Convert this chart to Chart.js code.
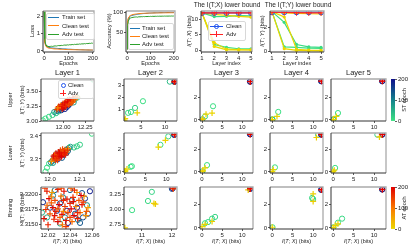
<!DOCTYPE html>
<html><head><meta charset="utf-8">
<script src="https://cdn.jsdelivr.net/npm/chart.js@4"></script>
<style>
body{margin:0;background:#fff;}
#fig{position:relative;width:411px;height:247px;overflow:hidden;font-family:"Liberation Sans",Arial,sans-serif;color:#222;}
#fig canvas{position:absolute;}
.t{position:absolute;white-space:nowrap;line-height:1;transform:translate(-50%,-50%);}
.r{transform:translate(-50%,-50%) rotate(-90deg);}
.d{position:absolute;}
</style></head><body><div id="fig"></div>
<script>
const FONT = '"Liberation Sans", Arial, sans-serif';
Chart.defaults.font.family = FONT;

// ---- training curves (top left) ----
const epochs    = [0,1,2,3,5,8,10,15,20,25,30,35,40,45,50,55,60,65,70,75,80,85,90,95,100,105,110,115,120,125,130,135,140,145,150,155,160,165,170,175,180,185,190,195,200];
const trainLoss = [2.30,1.60,0.90,0.55,0.38,0.30,0.26,0.22,0.20,0.19,0.18,0.17,0.16,0.155,0.15,0.145,0.14,0.135,0.13,0.125,0.12,0.115,0.11,0.105,0.10,0.098,0.095,0.09,0.088,0.085,0.08,0.078,0.075,0.072,0.07,0.068,0.065,0.062,0.06,0.058,0.055,0.052,0.05,0.048,0.045];
const cleanLoss = [2.30,1.50,0.80,0.50,0.34,0.26,0.22,0.18,0.16,0.15,0.14,0.13,0.12,0.115,0.11,0.105,0.10,0.10,0.095,0.09,0.09,0.085,0.085,0.08,0.08,0.078,0.075,0.075,0.072,0.07,0.07,0.068,0.068,0.065,0.065,0.063,0.062,0.06,0.06,0.058,0.058,0.056,0.055,0.055,0.054];
const advLoss   = [2.30,1.80,1.10,0.70,0.45,0.33,0.28,0.26,0.25,0.26,0.27,0.26,0.28,0.29,0.28,0.30,0.31,0.30,0.32,0.31,0.33,0.34,0.33,0.35,0.34,0.36,0.35,0.37,0.36,0.38,0.37,0.39,0.38,0.40,0.39,0.41,0.40,0.42,0.41,0.43,0.42,0.44,0.43,0.45,0.44];
const trainAcc  = [10,45,65,75,83,87,89,91,92,93,93.5,94,94.5,95,95.5,96,96.2,96.5,96.8,97,97.2,97.5,97.7,97.9,98,98.2,98.3,98.5,98.6,98.7,98.8,98.9,99,99,99.1,99.2,99.2,99.3,99.3,99.4,99.4,99.5,99.5,99.5,99.6];
const cleanAcc  = [10,50,70,80,86,89,91,92.5,93.5,94.5,95,95.5,96,96.3,96.6,96.8,97,97.2,97.3,97.5,97.6,97.7,97.8,97.9,98,98,98.1,98.2,98.2,98.3,98.3,98.4,98.4,98.5,98.5,98.5,98.6,98.6,98.6,98.7,98.7,98.7,98.8,98.8,98.8];
const advAcc    = [10,30,55,68,78,83,85,86,87,87.5,88,88.3,88.5,88,89,88.7,89.2,89,89.5,89.2,89.6,89.4,89.8,89.5,90,89.7,90.1,89.8,90.2,90,90.3,90.1,90.4,90.2,90.5,90.3,90.6,90.4,90.6,90.5,90.7,90.5,90.8,90.6,90.8];

// ---- lower bounds per layer (top right) ----
const layers   = [1,2,3,4,5];
const itxClean = [12,12,12,12,12];
const itxAdv   = [12,12,12,12,12];
const itxST    = [[12,10.8,10.9,11.1,11.0],[12,1.8,0.9,0.45,0.4]];
const itxAT    = [[12,11.5,11.2,10.9,10.6],[12,2.4,0.3,0.15,0.1],[12,1.2,0.1,0.05,0.05]];
const ityClean = [3.25,3.25,3.25,3.25,3.25];
const ityAdv   = [3.25,3.23,3.21,3.2,3.2];
const ityST    = [[3.3,2.4,0.55,0.35,0.3],[3.3,0.35,0.3,0.25,0.22]];
const ityAT    = [[3.25,3.2,3.15,3.12,3.1],[3.3,2.85,0.15,0.08,0.05],[3.3,0.2,0.05,0.03,0.02]];
const lineEpST = [6,0];
const lineEpAT = [4,2,0];

// ---- information plane points: [I(T;X), I(T;Y), epoch] ----
const up1C = [[11.77,3.01,0],[11.80,3.04,6],[11.84,3.07,12],[11.88,3.10,20],[11.92,3.13,30],[11.95,3.16,45],[12.13,3.36,40],[12.16,3.39,25],[12.34,3.69,3],
  [11.90,3.15,80],[11.93,3.17,100],[11.95,3.19,120],[11.97,3.21,140],[11.99,3.22,160],[12.01,3.24,180],[12.03,3.26,200],[12.05,3.28,190],[12.07,3.30,170],[12.09,3.32,150],
  [11.96,3.23,130],[12.00,3.27,110],[12.04,3.23,175],[12.06,3.26,195],[12.02,3.20,185],[11.98,3.18,165],[12.08,3.29,145],[12.10,3.34,90],[12.12,3.31,70]];
const up1A = [[11.93,3.19,150],[11.96,3.21,160],[11.98,3.23,170],[12.00,3.25,180],[12.02,3.27,190],[12.04,3.29,200],[12.06,3.31,195],[12.08,3.33,185],[12.10,3.35,175],[12.12,3.37,165],
  [12.14,3.39,155],[12.00,3.29,140],[12.03,3.32,130],[12.06,3.27,120],[12.09,3.30,110],[11.97,3.26,100],[12.05,3.35,145],[12.11,3.32,135],[12.01,3.22,200],[12.07,3.36,190],
  [11.95,3.24,175],[11.99,3.27,185],[12.02,3.30,195],[12.05,3.32,200],[12.08,3.35,180],[12.11,3.38,160],[11.99,3.20,190],[12.03,3.24,170],[12.07,3.28,150],[12.10,3.31,130],
  [12.13,3.35,115],[11.94,3.22,90],[12.16,3.40,85]];
const up2C = [[2.3,0.73,5],[2.9,0.8,10],[3.75,1.14,20],[5.4,1.7,3],[11.0,3.33,40],[11.95,3.31,100],[12.0,3.33,150],[12.05,3.35,200]];
const up2A = [[1.55,0.12,0],[1.7,0.24,3],[4.2,0.73,8],[11.9,3.3,160],[12.0,3.35,120],[12.05,3.33,200]];
const up3C = [[0.1,0.05,40],[0.75,0.3,10],[2.75,1.2,3],[11.95,3.36,150],[12.0,3.38,200]];
const up3A = [[0.05,0.02,30],[0.2,0.1,6],[1.0,0.5,5],[2.5,0.6,2],[12.05,3.36,170],[12.0,3.38,200]];
const up4C = [[0.05,0.02,50],[0.1,0.05,20],[1.5,0.7,3],[11.95,3.4,150],[12.0,3.42,200]];
const up4A = [[0,0,8],[0.1,0.03,3],[1.2,0.3,2],[12.05,3.4,170],[12.0,3.42,200]];
const up5C = [[0.05,0.02,50],[0.1,0.05,20],[1.2,0.6,3],[11.95,3.4,150],[12.0,3.42,200]];
const up5A = [[0,0,8],[0.1,0.03,3],[0.8,0.3,2],[12.05,3.4,170],[12.0,3.42,200]];

const lo1C = [[11.985,3.245,0],[11.99,3.262,5],[11.997,3.28,10],[12.14,3.41,3],[12.09,3.355,15],[12.10,3.362,20],[12.08,3.35,30],
  [12.003,3.285,90],[12.008,3.292,110],[12.013,3.298,130],[12.018,3.303,150],[12.023,3.308,170],[12.028,3.313,190],[12.033,3.318,200],[12.038,3.323,180],[12.043,3.328,160],
  [12.048,3.333,140],[12.053,3.338,120],[12.058,3.343,100],[12.063,3.348,80],[12.068,3.353,60],[12.015,3.31,175],[12.025,3.298,185],[12.035,3.33,165],[12.045,3.318,195],
  [12.055,3.326,155],[12.01,3.283,70],[12.06,3.335,125],[12.02,3.32,145],[12.04,3.305,135]];
const lo1A = [[12.01,3.30,120],[12.015,3.305,140],[12.02,3.31,160],[12.025,3.315,180],[12.03,3.32,200],[12.035,3.325,190],[12.04,3.33,170],[12.045,3.335,150],[12.05,3.34,130],
  [12.055,3.33,110],[12.02,3.325,185],[12.03,3.305,175],[12.04,3.315,195],[12.05,3.325,165],[12.025,3.295,145],[12.045,3.32,155],[12.035,3.338,135],[12.015,3.318,125],[12.06,3.345,70],[12.005,3.29,80],
  [12.012,3.312,190],[12.022,3.302,170],[12.028,3.33,180],[12.038,3.31,200],[12.048,3.328,185],[12.058,3.338,160],[12.018,3.296,150],[12.042,3.342,140],[12.032,3.326,195],[12.052,3.318,175]];
const lo2C = [[1.4,0.45,2],[1.7,0.5,3],[8.6,2.4,5],[10.5,3.15,10],[11.9,3.28,150],[12.0,3.3,200]];
const lo2A = [[0.05,0.02,0],[0.15,0.08,2],[0.0,0.1,1],[0.5,0.25,1],[8.1,2.2,3],[9.8,2.8,8],[12.05,3.28,130],[12.0,3.3,190]];
const lo3C = [[0.1,0.05,20],[1.25,0.6,3],[11.95,3.33,150],[12.0,3.35,200]];
const lo3A = [[0.1,0.05,0],[0.2,0.1,5],[0.75,0.35,2],[12.05,3.33,170],[12.0,3.35,200]];
const lo4C = [[0.7,0.4,3],[11.2,3.3,20],[11.95,3.3,150],[12.0,3.32,200]];
const lo4A = [[0.05,0.02,0],[0.3,0.2,2],[10.8,3.05,10],[12.05,3.3,170],[12.0,3.32,200]];
const lo5C = [[0.5,0.35,3],[10.8,3.3,20],[11.95,3.3,150],[12.0,3.32,200]];
const lo5A = [[0.05,0.02,0],[0.3,0.15,2],[11.3,3.1,10],[12.05,3.3,170],[12.0,3.32,200]];

const bin1C = [[12.0154,3.3187,180],[12.0191,3.3162,60],[12.0309,3.3152,70],[12.0381,3.3153,200],[12.0581,3.3205,190],[12.0536,3.3193,170],[12.0554,3.3182,80],[12.0563,3.3168,160],
  [12.0518,3.3162,150],[12.0491,3.3153,140],[12.0445,3.3168,130],[12.0418,3.3190,120],[12.0336,3.3195,110],[12.0245,3.3198,100],[12.0281,3.3173,175],[12.0218,3.3178,165],
  [12.0372,3.3173,185],[12.0463,3.3178,195],[12.0309,3.3185,155],[12.0509,3.3202,145],[12.0400,3.3207,135],[12.0263,3.3207,125],[12.0145,3.3170,50],[12.0354,3.3162,90],[12.0472,3.3158,115]];
const bin1A = [[12.0172,3.3210,150],[12.0236,3.3203,60],[12.0290,3.3208,170],[12.0345,3.3205,190],[12.0409,3.3210,120],[12.0463,3.3203,80],[12.0209,3.3193,200],[12.0263,3.3190,140],
  [12.0318,3.3197,100],[12.0372,3.3192,180],[12.0427,3.3195,160],[12.0481,3.3190,130],[12.0527,3.3197,70],[12.0191,3.3182,110],[12.0245,3.3178,190],[12.0300,3.3183,200],
  [12.0354,3.3180,150],[12.0400,3.3185,170],[12.0454,3.3180,90],[12.0509,3.3183,185],[12.0563,3.3178,60],[12.0218,3.3168,130],[12.0272,3.3172,175],[12.0327,3.3167,195],
  [12.0381,3.3170,140],[12.0436,3.3165,200],[12.0491,3.3170,100],[12.0545,3.3165,75],[12.0254,3.3159,165],[12.0309,3.3162,120],[12.0363,3.3157,180],[12.0418,3.3155,110],
  [12.0163,3.3160,190],[12.0200,3.3150,170],[12.0363,3.3147,150],
  [12.0190,3.3205,180],[12.0320,3.3210,140],[12.0440,3.3207,160],[12.0500,3.3198,200],[12.0230,3.3186,120],[12.0340,3.3190,170],[12.0430,3.3188,190],[12.0290,3.3176,130],
  [12.0410,3.3176,200],[12.0470,3.3170,165],[12.0340,3.3172,90],[12.0260,3.3165,185],[12.0400,3.3162,145],[12.0470,3.3160,175],[12.0290,3.3155,195],[12.0330,3.3150,100],
  [12.0520,3.3187,150],[12.0550,3.3172,125],[12.0180,3.3175,160],[12.0230,3.3196,85]];
const bin2C = [[10.67,2.99,5],[11.2,3.14,10],[11.33,3.29,15],[12.0,3.34,150],[12.03,3.35,200]];
const bin2A = [[10.43,2.7,2],[11.4,3.1,8],[11.45,3.09,12],[12.05,3.34,120],[12.03,3.35,180]];
const bin3C = [[0.75,0.4,2],[1.5,0.5,5],[2.5,0.8,10],[3.25,0.95,15],[11.95,3.38,150],[12.0,3.4,200]];
const bin3A = [[0,0.1,0],[0.75,0.3,3],[2.5,0.55,10],[11.5,3.3,20],[12.05,3.38,170],[12.0,3.4,200]];
const bin4C = [[0.1,0.05,2],[9.75,2.6,10],[10,2.5,15],[11.95,3.3,150],[12.0,3.32,200]];
const bin4A = [[0.05,0.05,0],[10,2.95,8],[10,2.3,12],[12.05,3.3,170],[12.0,3.32,200]];
const bin5C = [[0.1,0.05,1],[1.2,0.45,5],[2.2,0.8,10],[11.95,3.33,150],[12.0,3.35,200]];
const bin5A = [[0.05,0.02,0],[0.5,0.2,3],[1.2,0.35,6],[12.05,3.33,170],[12.0,3.35,200]];

const cbarTicks = [0,100,200];

// ---- colours ----
const stStops = [[60,225,130],[20,130,140],[15,15,140]];
const atStops = [[235,215,0],[250,120,0],[225,0,0]];
function cmap(stops, t){
  const n = stops.length-1, k = Math.min(n-1, Math.floor(t*n)), f = t*n-k;
  const a = stops[k], b = stops[k+1];
  return 'rgb('+a.map((v,i)=>Math.round(v+(b[i]-v)*f)).join(',')+')';
}
const stColor = e => cmap(stStops, e/200), atColor = e => cmap(atStops, e/200);
const BLUE = '#2255ee', RED = '#ff2222';

const fig = document.getElementById('fig');
const PL = 34, PB = 14, PT = 6, PR = 12;

const frame = {
  id: 'frame',
  afterDatasetsDraw(c){
    const a = c.chartArea, x = c.ctx;
    x.save();
    x.lineWidth = 1.3; x.strokeStyle = '#aaa';
    x.beginPath(); x.moveTo(a.left, a.top); x.lineTo(a.right, a.top); x.lineTo(a.right, a.bottom); x.stroke();
    x.lineWidth = 1; x.strokeStyle = '#333';
    x.beginPath(); x.moveTo(a.left, a.top); x.lineTo(a.left, a.bottom); x.lineTo(a.right, a.bottom); x.stroke();
    x.restore();
  }
};

function axis([min, max, ticks, dec], size, dir, pos){
  return { type: 'linear', min, max, position: pos,
    afterBuildTicks: s => { s.ticks = ticks.map(v => ({value: v})); },
    afterFit: s => { if(dir === 'x') s.height = size; else s.width = size; },
    ticks: { autoSkip: false, maxRotation: 0, padding: 1, color: '#222', font: {size: 6}, callback: v => v.toFixed(dec) },
    grid: { drawOnChartArea: false, tickLength: 2, color: '#333', lineWidth: 0.8 },
    border: { display: false } };
}

// chart.js paints dataset 0 last, so the first dataset in the list ends up on top
function panel(b, xs, ys, datasets){
  const cv = document.createElement('canvas');
  cv.width = b[2]+PL+PR; cv.height = b[3]+PT+PB;
  cv.style.left = (b[0]-PL)+'px'; cv.style.top = (b[1]-PT)+'px';
  fig.appendChild(cv);
  return new Chart(cv, { type: 'scatter', data: { datasets },
    options: { responsive: false, animation: false, devicePixelRatio: 1,
      layout: { padding: { top: PT, right: PR, left: 0, bottom: 0 } },
      plugins: { legend: { display: false }, tooltip: { enabled: false } },
      scales: { x: axis(xs, PB, 'x'), y: axis(ys, PL, 'y') } },
    plugins: [frame] });
}

function colorbar(b, stops){
  const cv = document.createElement('canvas');
  cv.width = b[2]+18; cv.height = b[3]+12;
  cv.style.left = b[0]+'px'; cv.style.top = (b[1]-6)+'px';
  fig.appendChild(cv);
  const y = axis([0, 200, cbarTicks, 0], 18, 'y', 'right');
  new Chart(cv, { type: 'bar',
    data: { labels: [''], datasets: [{ data: [[cbarTicks[0], cbarTicks[2]]], barPercentage: 1, categoryPercentage: 1,
      backgroundColor: c => { const a = c.chart.chartArea; if(!a) return null;
        const g = c.chart.ctx.createLinearGradient(0, a.bottom, 0, a.top);
        stops.forEach((s,i) => g.addColorStop(i/(stops.length-1), 'rgb('+s.join(',')+')')); return g; } }] },
    options: { responsive: false, animation: false, devicePixelRatio: 1,
      layout: { padding: { top: 6, bottom: 6 } },
      plugins: { legend: { display: false }, tooltip: { enabled: false } },
      scales: { x: { display: false }, y } } });
}

const xy = (xs, ys) => xs.map((x,i) => ({x, y: ys[i]}));
const curve = (ys, color) => ({ data: xy(epochs, ys), showLine: true, borderColor: color, borderWidth: 1, pointRadius: 0 });
const pts = arr => arr.map(p => ({x: p[0], y: p[1]}));
const cleanSet = arr => ({ data: pts(arr), pointStyle: 'circle', pointRadius: 2.6, pointBorderWidth: 1,
  pointBackgroundColor: 'rgba(0,0,0,0)', pointBorderColor: arr.map(p => stColor(p[2])) });
const advSet = arr => ({ data: pts(arr), pointStyle: 'cross', pointRadius: 3, pointBorderWidth: 1.2,
  pointBorderColor: arr.map(p => atColor(p[2])) });
function layerLines(st, at, clean, adv){
  const ds = [];
  ds.push({ data: xy(layers, adv), showLine: true, borderColor: RED, borderWidth: 1.2, pointStyle: 'cross', pointRadius: 3,
    pointBorderColor: RED, pointBorderWidth: 1 });
  ds.push({ data: xy(layers, clean), showLine: true, borderColor: BLUE, borderWidth: 1.2, pointStyle: 'circle', pointRadius: 2.6,
    pointBorderColor: BLUE, pointBackgroundColor: 'rgba(0,0,0,0)', pointBorderWidth: 1 });
  at.forEach((v,i) => ds.push({ data: xy(layers, v), showLine: true, borderColor: atColor(lineEpAT[i]), borderWidth: 1.2,
    pointRadius: 1.6, pointBackgroundColor: atColor(lineEpAT[i]), pointBorderWidth: 0 }));
  st.forEach((v,i) => ds.push({ data: xy(layers, v), showLine: true, borderColor: stColor(lineEpST[i]), borderWidth: 1.2,
    pointRadius: 1.6, pointBackgroundColor: stColor(lineEpST[i]), pointBorderWidth: 0 }));
  return ds;
}

// top row
panel([43,11,51,41], [-5,205,[0,100,200],0], [-0.06,2.29,[0,1,2],0],
  [curve(advLoss,'#2ca02c'), curve(cleanLoss,'#ff7f0e'), curve(trainLoss,'#1f77b4')]);
panel([126,11,49,41], [-5,205,[0,100,200],0], [3,103,[50,100],0],
  [curve(advAcc,'#2ca02c'), curve(cleanAcc,'#ff7f0e'), curve(trainAcc,'#1f77b4')]);
panel([201,11,51,41], [0.92,5.08,layers,0], [-0.6,12.6,[0,5,10],0], layerLines(itxST, itxAT, itxClean, itxAdv));
panel([270,11,54,41], [0.84,5.24,layers,0], [-0.08,3.35,[0,2],0], layerLines(ityST, ityAT, ityClean, ityAdv));

// information planes
const cols = [[41,53],[124,53],[200,53],[270,53],[331,55]];
const rows = [[79,42],[133,40],[187,42]];
const planes = [
  [[up1C,up1A,[11.75,12.35,[12,12.25],2],[3.0,3.7,[3,3.25,3.5],2]],
   [up2C,up2A,[1.45,12.5,[5,10],0],[0.05,3.55,[1,2,3],0]],
   [up3C,up3A,[-0.5,12.7,[0,5,10],0],[-0.1,3.6,[0,2],0]],
   [up4C,up4A,[-0.5,12.4,[0,5,10],0],[-0.1,3.6,[0,2],0]],
   [up5C,up5A,[-0.5,12.9,[0,5,10],0],[-0.1,3.6,[0,2],0]]],
  [[lo1C,lo1A,[11.97,12.147,[12.0,12.1],1],[3.239,3.413,[3.3,3.4],1]],
   [lo2C,lo2A,[-0.2,12.6,[0,5,10],0],[-0.1,3.45,[0,2],0]],
   [lo3C,lo3A,[-0.5,12.7,[0,5,10],0],[-0.1,3.45,[0,2],0]],
   [lo4C,lo4A,[-0.5,12.4,[0,5,10],0],[-0.1,3.45,[0,2],0]],
   [lo5C,lo5A,[-0.5,12.9,[0,5,10],0],[-0.1,3.45,[0,2],0]]],
  [[bin1C,bin1A,[12.0136,12.0618,[12.02,12.04,12.06],2],[3.3143,3.3212,[3.315,3.3175,3.32],4]],
   [bin2C,bin2A,[10.4,12.17,[11,12],0],[2.68,3.37,[2.75,3,3.25],2]],
   [bin3C,bin3A,[-0.5,12.7,[0,5,10],0],[-0.1,3.55,[0,2],0]],
   [bin4C,bin4A,[-0.5,12.4,[0,5,10],0],[-0.1,3.55,[0,2],0]],
   [bin5C,bin5A,[-0.5,12.9,[0,5,10],0],[-0.1,3.55,[0,2],0]]]
];
planes.forEach((row, r) => row.forEach((p, c) =>
  panel([cols[c][0], rows[r][0], cols[c][1], rows[r][1]], p[2], p[3], [advSet(p[1]), cleanSet(p[0])])));

colorbar([391,79,4,42], stStops);
colorbar([391,187,4,42], atStops);

// text
function lab(html, x, y, size, rot){
  const d = document.createElement('div');
  d.className = 't' + (rot ? ' r' : '');
  d.style.left = x+'px'; d.style.top = y+'px'; d.style.fontSize = size+'px';
  d.innerHTML = html; fig.appendChild(d);
}
const IX = '<i>I</i>(<i>T</i>; <i>X</i>) (bits)', IY = '<i>I</i>(<i>T</i>; <i>Y</i>) (bits)';
lab('Loss', 32, 31, 6, 1); lab('Accuracy (%)', 109, 31, 6, 1);
lab(IX, 189, 31, 6, 1); lab(IY, 262, 31, 6, 1);
lab('Epochs', 68.5, 64, 5.5); lab('Epochs', 150.5, 64, 5.5);
lab('Layer index', 226.5, 64, 5.5); lab('Layer index', 297, 64, 5.5);
lab('The I(T;X) lower bound', 227, 5, 6.6); lab('The I(T;Y) lower bound', 298, 5, 6.6);
cols.forEach((c, i) => { lab('Layer ' + (i+1), c[0] + c[1]/2, 73, 7.5); lab(IX, c[0] + c[1]/2, 242, 5.5); });
['Upper','Lower','Binning'].forEach((t, i) => { const yc = rows[i][0] + rows[i][1]/2; lab(t, 11, yc, 5.5, 1); lab(IY, 23, yc, 5.5, 1); });
lab('ST epoch', 405, 100, 5.5, 1); lab('AT epoch', 405, 208, 5.5, 1);

// legends
function div(css){ const d = document.createElement('div'); d.className = 'd'; d.style.cssText += css; fig.appendChild(d); return d; }
function lbox(x, y, w, h){ div(`left:${x}px;top:${y}px;width:${w}px;height:${h}px;border:1px solid #d8d8d8;border-radius:2px;background:rgba(255,255,255,0.8)`); }
function hl(x, y, w, c){ div(`left:${x}px;top:${y-0.5}px;width:${w}px;height:1px;background:${c}`); }
function ring(x, y, c){ div(`left:${x-2.5}px;top:${y-2.5}px;width:3px;height:3px;border:1px solid ${c};border-radius:50%`); }
function plus(x, y, c){ hl(x-3, y, 6, c); div(`left:${x-0.5}px;top:${y-3}px;width:1px;height:6px;background:${c}`); }
function txt(t, x, y){ const d = document.createElement('div'); d.className = 't'; d.style.cssText += `left:${x}px;top:${y}px;font-size:6px;transform:translate(0,-50%)`; d.textContent = t; fig.appendChild(d); }

lbox(46, 13, 47, 25);
[['Train set','#1f77b4'],['Clean test','#ff7f0e'],['Adv test','#2ca02c']].forEach((e, i) => { hl(48, 17+i*8.5, 11, e[1]); txt(e[0], 62, 17+i*8.5); });
lbox(128, 23, 44, 25);
[['Train set','#1f77b4'],['Clean test','#ff7f0e'],['Adv test','#2ca02c']].forEach((e, i) => { hl(130, 28+i*8, 10, e[1]); txt(e[0], 142, 28+i*8); });
lbox(208, 21, 36, 18);
hl(210, 26, 13, BLUE); ring(216.5, 26, BLUE); txt('Clean', 226, 26);
hl(210, 34, 13, RED); plus(216.5, 34, RED); txt('Adv', 226, 34);
lbox(58, 80, 34, 17);
ring(63, 85, BLUE); txt('Clean', 68, 85);
plus(63, 93, RED); txt('Adv', 68, 93);
</script></body></html>
